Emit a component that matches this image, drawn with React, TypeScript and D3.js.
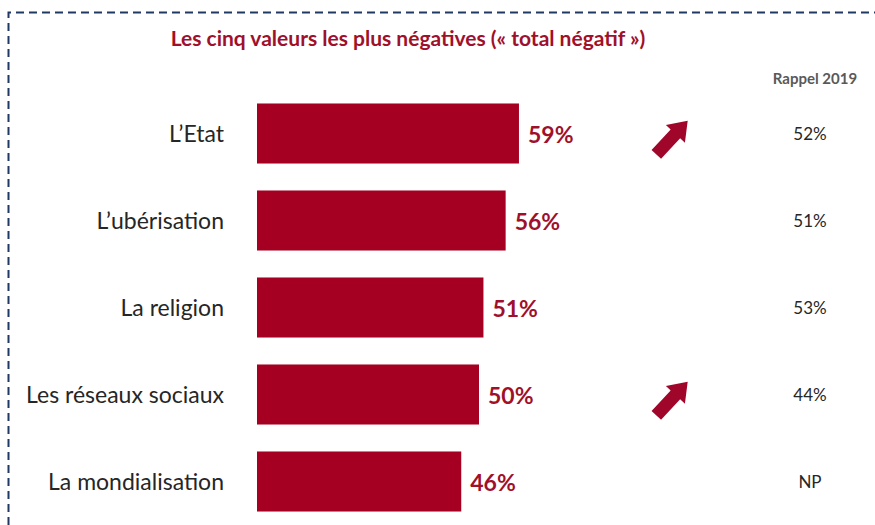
import { useEffect, useRef } from "react";
import * as d3 from "d3";

const categories = ["L\u2019Etat", "L\u2019ubérisation", "La religion", "Les réseaux sociaux", "La mondialisation"];
const values2023 = [59, 56, 51, 50, 46];
const rappel2019 = ["52%", "51%", "53%", "44%", "NP"];
const trendUp = [true, false, false, true, false];

const title = "Les cinq valeurs les plus négatives (« total négatif »)";
const rappelTitle = "Rappel 2019";

const RED = "#A50021";
const TEXT_RED = "#A0102A";

export default function App() {
  const svgRef = useRef<SVGSVGElement | null>(null);

  useEffect(() => {
    const svg = d3.select(svgRef.current);
    svg.selectAll("*").remove();

    const width = 875;
    const height = 525;
    const font = "Lato, 'Open Sans', sans-serif";

    svg.append("rect").attr("width", width).attr("height", height).attr("fill", "#fff");

    // dashed frame (top + left only)
    svg
      .append("path")
      .attr("d", `M8.5,${height} L8.5,12.5 L${width},12.5`)
      .attr("fill", "none")
      .attr("stroke", "#1F3864")
      .attr("stroke-width", 2)
      .attr("stroke-dasharray", "8,5");

    svg
      .append("text")
      .attr("x", 408)
      .attr("y", 46)
      .attr("text-anchor", "middle")
      .attr("font-family", font)
      .attr("font-weight", 700)
      .attr("font-size", 21)
      .attr("fill", TEXT_RED)
      .text(title);

    svg
      .append("text")
      .attr("x", 815)
      .attr("y", 84)
      .attr("text-anchor", "middle")
      .attr("font-family", font)
      .attr("font-weight", 700)
      .attr("font-size", 15)
      .attr("fill", "#595959")
      .text(rappelTitle);

    const x = d3.scaleLinear().domain([0, 100]).range([257, 701]);
    const y = d3
      .scaleBand<string>()
      .domain(categories)
      .range([90, 525])
      .paddingInner(0.31)
      .paddingOuter(0.155);

    const rows = svg
      .selectAll("g.row")
      .data(categories)
      .enter()
      .append("g")
      .attr("class", "row");

    rows
      .append("rect")
      .attr("x", x(0))
      .attr("y", (d) => y(d)!)
      .attr("width", (d, i) => x(values2023[i]) - x(0))
      .attr("height", y.bandwidth())
      .attr("fill", RED);

    rows
      .append("text")
      .attr("x", 224)
      .attr("y", (d) => y(d)! + y.bandwidth() / 2 + 8)
      .attr("text-anchor", "end")
      .attr("font-family", font)
      .attr("font-size", 23)
      .attr("fill", "#262626")
      .text((d) => d);

    rows
      .append("text")
      .attr("x", (d, i) => x(values2023[i]) + 9)
      .attr("y", (d) => y(d)! + y.bandwidth() / 2 + 9)
      .attr("font-family", font)
      .attr("font-weight", 700)
      .attr("font-size", 23)
      .attr("fill", TEXT_RED)
      .text((d, i) => `${values2023[i]}%`);

    rows
      .append("text")
      .attr("x", 810)
      .attr("y", (d) => y(d)! + y.bandwidth() / 2 + 6)
      .attr("text-anchor", "middle")
      .attr("font-family", font)
      .attr("font-size", 17)
      .attr("fill", "#262626")
      .text((d, i) => rappel2019[i]);

    // up arrows, drawn pointing right then rotated
    const arrow = "M-23,-6.5 L5,-6.5 L5,-13 L23,0 L5,13 L5,6.5 L-23,6.5 Z";
    rows
      .filter((d, i) => trendUp[i])
      .append("path")
      .attr("d", arrow)
      .attr("fill", "#A0052A")
      .attr("transform", (d) => `translate(672,${y(d)! + y.bandwidth() / 2 + 4}) rotate(-47)`);
  }, []);

  return (
    <svg
      ref={svgRef}
      width={875}
      height={525}
      style={{ position: "absolute", left: 0, top: 0 }}
    />
  );
}
